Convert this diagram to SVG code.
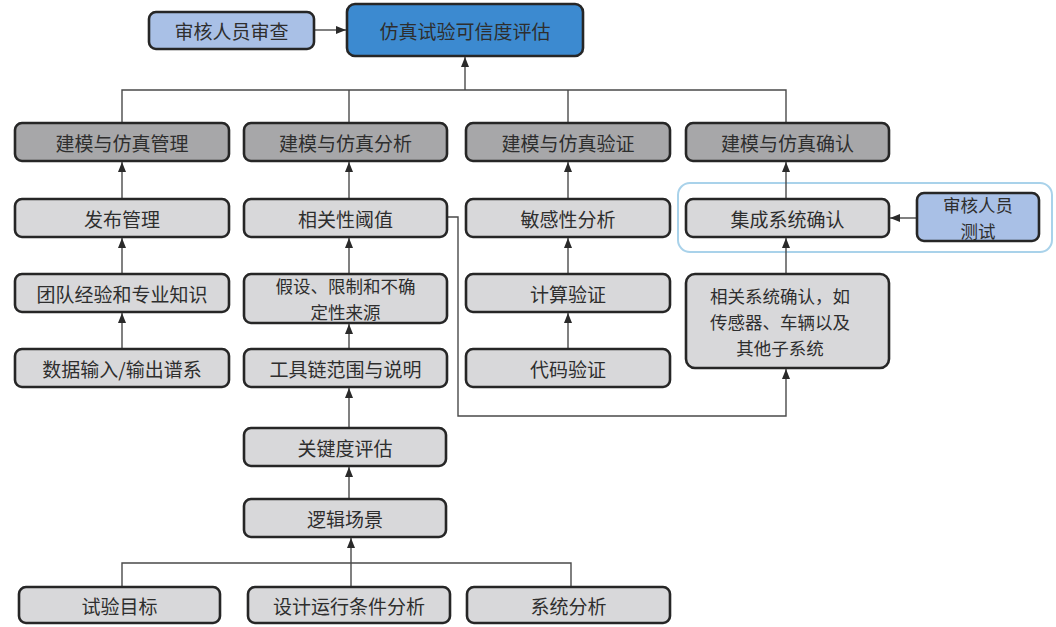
<svg xmlns="http://www.w3.org/2000/svg" width="1056" height="627" viewBox="0 0 1056 627">
<style>
  .bx{stroke:#262626;stroke-width:2.6}
  .dk{fill:#a7a7a9}
  .lt{fill:#d8d8da}
  .bl{fill:#a9c0e6}
  .mb{fill:#3c8ad0}
  text{font-family:"Noto Sans CJK SC","Noto Sans",sans-serif;font-size:19px;fill:#2e2e2e;text-anchor:middle;dominant-baseline:central}
  text.ml{font-size:17.5px}
  .cn{fill:none;stroke:#4a4a4a;stroke-width:1.4}
</style>
<defs>
  <marker id="ah" viewBox="0 0 10 8" refX="10" refY="4" markerWidth="10" markerHeight="8" markerUnits="userSpaceOnUse" orient="auto">
    <path d="M0,0 L10,4 L0,8 Z" fill="#2a2a2a"/>
  </marker>
</defs>
<rect x="678" y="183" width="374" height="69" rx="12" fill="none" stroke="#a9d2ea" stroke-width="2"/>
<g id="connectors">
  <path class="cn" d="M314,30 H346" marker-end="url(#ah)"/>
  <path class="cn" d="M122,123 V90 H786 V123"/>
  <path class="cn" d="M349,90 V123"/>
  <path class="cn" d="M568,90 V123"/>
  <path class="cn" d="M465,90 V57" marker-end="url(#ah)"/>
  <path class="cn" d="M122,199 V162" marker-end="url(#ah)"/>
  <path class="cn" d="M122,274 V238" marker-end="url(#ah)"/>
  <path class="cn" d="M122,349 V313" marker-end="url(#ah)"/>
  <path class="cn" d="M349,199 V162" marker-end="url(#ah)"/>
  <path class="cn" d="M349,274 V238" marker-end="url(#ah)"/>
  <path class="cn" d="M349,349 V324" marker-end="url(#ah)"/>
  <path class="cn" d="M349,428 V388" marker-end="url(#ah)"/>
  <path class="cn" d="M349,499 V467" marker-end="url(#ah)"/>
  <path class="cn" d="M568,199 V162" marker-end="url(#ah)"/>
  <path class="cn" d="M568,274 V238" marker-end="url(#ah)"/>
  <path class="cn" d="M568,349 V313" marker-end="url(#ah)"/>
  <path class="cn" d="M786,199 V162" marker-end="url(#ah)"/>
  <path class="cn" d="M786,274 V238" marker-end="url(#ah)"/>
  <path class="cn" d="M917,218 H890" marker-end="url(#ah)"/>
  <path class="cn" d="M447,217 H458 V416 H786 V369" marker-end="url(#ah)"/>
  <path class="cn" d="M122,587 V563 H571 V587"/>
  <path class="cn" d="M351,587 V538" marker-end="url(#ah)"/>
</g>
<g id="n-review"><rect class="bx bl" x="149" y="12" width="165" height="37" rx="7"/><text x="231.5" y="30.5">审核人员审查</text></g>
<g id="n-main"><rect class="bx mb" x="347" y="4" width="236" height="52" rx="8"/><text x="465" y="30">仿真试验可信度评估</text></g>
<g id="n-mgmt"><rect class="bx dk" x="15" y="123" width="214" height="38" rx="7"/><text x="122" y="142">建模与仿真管理</text></g>
<g id="n-anal"><rect class="bx dk" x="244" y="123" width="203" height="38" rx="7"/><text x="345.5" y="142">建模与仿真分析</text></g>
<g id="n-veri"><rect class="bx dk" x="466" y="123" width="204" height="38" rx="7"/><text x="568" y="142">建模与仿真验证</text></g>
<g id="n-valid"><rect class="bx dk" x="686" y="123" width="203" height="38" rx="7"/><text x="787.5" y="142">建模与仿真确认</text></g>
<g id="n-release"><rect class="bx lt" x="15" y="199" width="214" height="38" rx="7"/><text x="122" y="218">发布管理</text></g>
<g id="n-corr"><rect class="bx lt" x="244" y="199" width="203" height="38" rx="7"/><text x="345.5" y="218">相关性阈值</text></g>
<g id="n-sens"><rect class="bx lt" x="466" y="199" width="204" height="38" rx="7"/><text x="568" y="218">敏感性分析</text></g>
<g id="n-integ"><rect class="bx lt" x="686" y="199" width="203" height="38" rx="7"/><text x="787.5" y="218">集成系统确认</text></g>
<g id="n-test"><rect class="bx bl" x="917" y="193" width="122" height="48" rx="7"/><text class="ml" x="978" y="204.5">审核人员<tspan x="978" dy="25.5">测试</tspan></text></g>
<g id="n-team"><rect class="bx lt" x="15" y="274" width="214" height="38" rx="7"/><text x="122" y="293">团队经验和专业知识</text></g>
<g id="n-assume"><rect class="bx lt" x="244" y="274" width="203" height="49" rx="7"/><text class="ml" x="345.5" y="285.75">假设、限制和不确<tspan x="345.5" dy="25.5">定性来源</tspan></text></g>
<g id="n-calc"><rect class="bx lt" x="466" y="274" width="204" height="38" rx="7"/><text x="568" y="293">计算验证</text></g>
<g id="n-rel"><rect class="bx lt" x="686" y="274" width="203" height="94" rx="9"/><text class="ml" x="780" y="295.5">相关系统确认，如<tspan x="780" dy="25.5">传感器、车辆以及</tspan><tspan x="780" dy="25.5">其他子系统</tspan></text></g>
<g id="n-data"><rect class="bx lt" x="15" y="349" width="214" height="38" rx="7"/><text x="122" y="368">数据输入/输出谱系</text></g>
<g id="n-tool"><rect class="bx lt" x="244" y="349" width="203" height="38" rx="7"/><text x="345.5" y="368">工具链范围与说明</text></g>
<g id="n-code"><rect class="bx lt" x="466" y="349" width="204" height="38" rx="7"/><text x="568" y="368">代码验证</text></g>
<g id="n-crit"><rect class="bx lt" x="244" y="428" width="202" height="38" rx="7"/><text x="345" y="447">关键度评估</text></g>
<g id="n-logic"><rect class="bx lt" x="244" y="499" width="202" height="38" rx="7"/><text x="345" y="518">逻辑场景</text></g>
<g id="n-goal"><rect class="bx lt" x="19" y="587" width="201" height="36" rx="7"/><text x="119.5" y="605">试验目标</text></g>
<g id="n-odd"><rect class="bx lt" x="248" y="587" width="202" height="36" rx="7"/><text x="349" y="605">设计运行条件分析</text></g>
<g id="n-sys"><rect class="bx lt" x="467" y="587" width="203" height="36" rx="7"/><text x="568.5" y="605">系统分析</text></g>
</svg>
